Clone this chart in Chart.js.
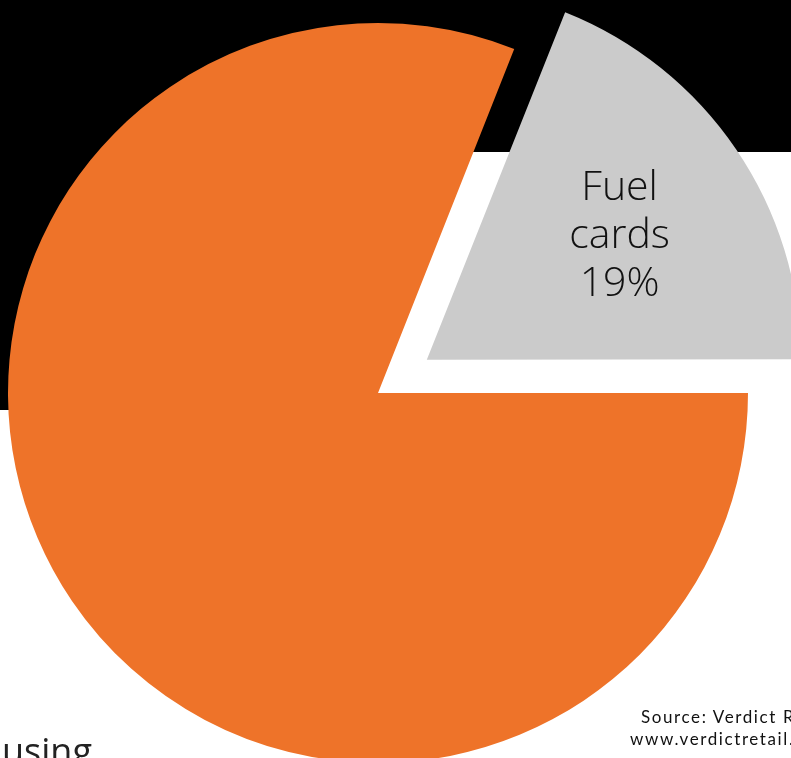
<!DOCTYPE html>
<html>
<head>
<meta charset="utf-8">
<script src="https://cdn.jsdelivr.net/npm/chart.js@4"></script>
<style>
  html, body { margin: 0; padding: 0; }
  body { width: 791px; height: 758px; overflow: hidden; position: relative; background: #fff; }
  .bg-top { position: absolute; left: 0; top: 0; width: 791px; height: 152px; background: #000; }
  .bg-left { position: absolute; left: 0; top: 0; width: 360px; height: 410px; background: #000; }
  #chart { position: absolute; left: -72px; top: 0; }
  .source { position: absolute; font-family: "Lato", sans-serif; font-size: 17px; letter-spacing: 1.6px; line-height: 22px; color: #111; white-space: nowrap; }
  .cut { position: absolute; left: 2px; top: 733px; font-family: "Open Sans", sans-serif; font-size: 36px; line-height: 36px; color: #222; white-space: nowrap; }
</style>
</head>
<body>
<div class="bg-top"></div>
<div class="bg-left"></div>
<canvas id="chart" width="900" height="786"></canvas>
<div class="source" style="left:641px;top:706px">Source: Verdict Retail</div>
<div class="source" style="left:630px;top:728px">www.verdictretail.com</div>
<div class="cut">using</div>
<script>
// data
const sliceLabels = ['Other', 'Fuel cards'];
const sliceValues = [81, 19];
const sliceColors = ['#EE7329', '#CBCBCB'];
const sliceOffsets = [0, 236]; // Chart.js moves the arc by offset / 4

// draw the label inside the pulled-out slice
const sliceLabelPlugin = {
    id: 'sliceLabel',
    afterDatasetsDraw(chart) {
        const ctx = chart.ctx;
        const arc = chart.getDatasetMeta(0).data[1];
        const p = arc.getProps(['x', 'y', 'startAngle', 'endAngle', 'outerRadius'], true);
        const mid = (p.startAngle + p.endAngle) / 2;
        const dist = (arc.options.offset || 0) / 4 + p.outerRadius * 0.63;
        const cx = p.x + Math.cos(mid) * dist;
        const cy = p.y + Math.sin(mid) * dist + 8;
        const lines = sliceLabels[1].split(' ').concat([sliceValues[1] + '%']);
        const lineH = 48;
        ctx.save();
        ctx.fillStyle = '#111';
        ctx.font = '300 41px "Open Sans", sans-serif';
        ctx.textAlign = 'center';
        ctx.textBaseline = 'middle';
        lines.forEach((t, i) => {
            ctx.fillText(t, cx, cy + (i - (lines.length - 1) / 2) * lineH);
        });
        ctx.restore();
    }
};

const ctx = document.getElementById('chart').getContext('2d');
new Chart(ctx, {
    type: 'pie',
    data: {
        labels: sliceLabels,
        datasets: [{
            data: sliceValues,
            backgroundColor: sliceColors,
            borderWidth: 0,
            offset: sliceOffsets
        }]
    },
    options: {
        responsive: false,
        animation: false,
        events: [],
        radius: 370,
        rotation: 90,
        layout: { padding: 0 },
        plugins: {
            legend: { display: false },
            tooltip: { enabled: false }
        }
    },
    plugins: [sliceLabelPlugin]
});
</script>
</body>
</html>
